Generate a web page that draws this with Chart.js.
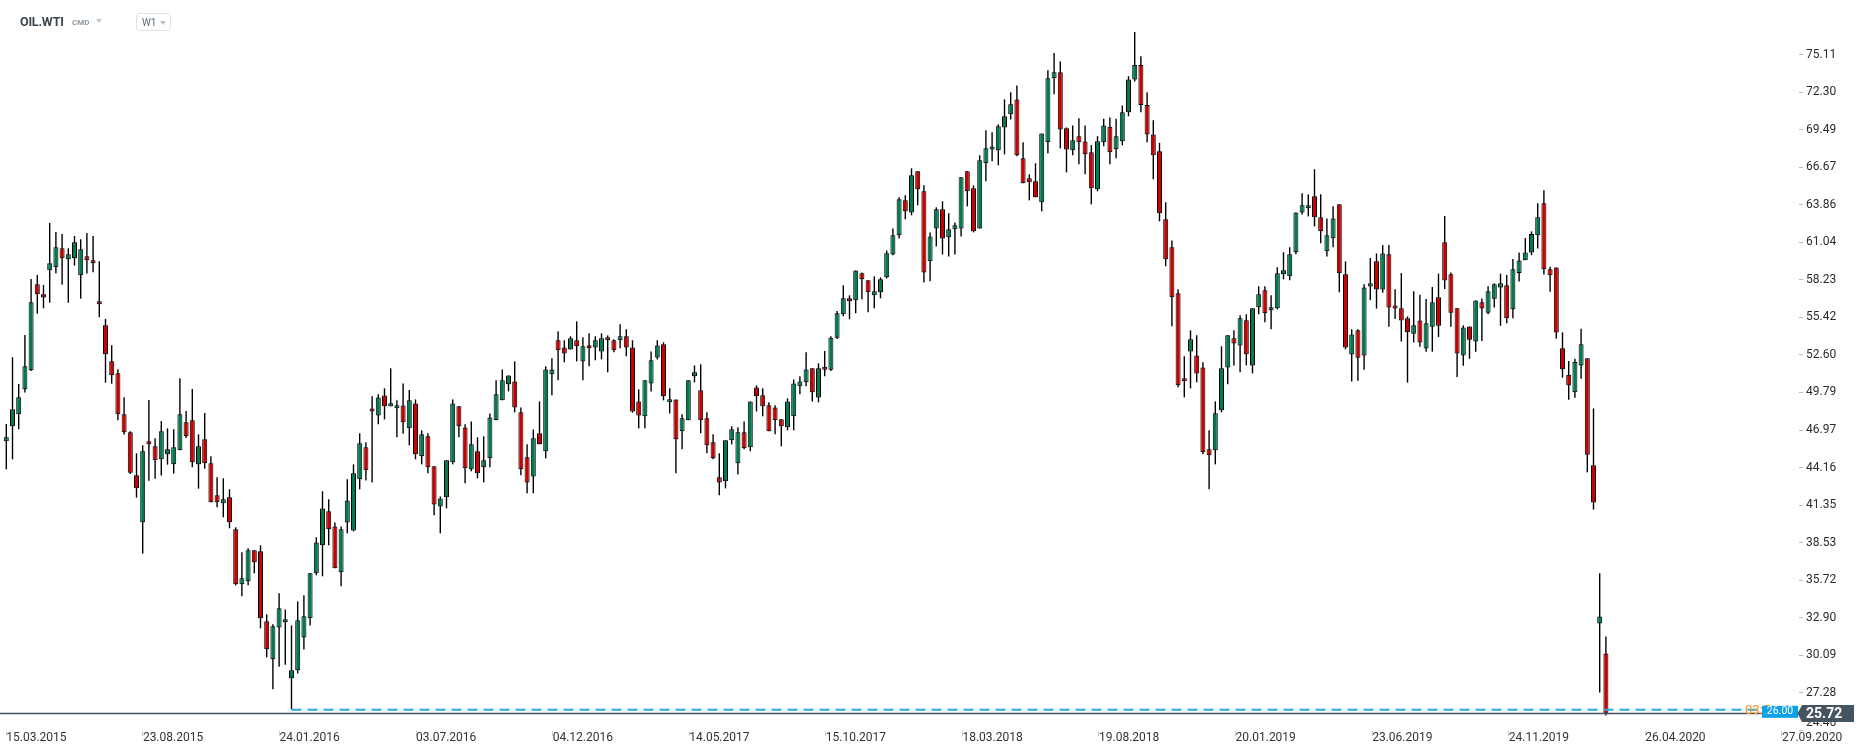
<!DOCTYPE html>
<html>
<head>
<meta charset="utf-8">
<title>OIL.WTI W1</title>
<script src="https://cdn.jsdelivr.net/npm/chart.js@4.4.1/dist/chart.umd.min.js"></script>
<style>
  html, body { margin: 0; padding: 0; background: #fff; }
  #wrap { position: relative; width: 1866px; height: 756px; overflow: hidden; }
  #chart { position: absolute; left: 0; top: 0; }
  .hdr { position: absolute; font-family: Roboto, sans-serif; white-space: nowrap; }
  .sym { left: 20px; top: 15px; font-weight: bold; font-size: 12.5px; line-height: 14px; color: #3b4751; letter-spacing: -0.2px; }
  .grp { left: 72px; top: 18px; font-weight: bold; font-size: 8px; line-height: 9px; color: #8c99a4; }
  .tri { position: absolute; width: 0; height: 0; border-left: 3.5px solid transparent; border-right: 3.5px solid transparent; border-top: 4px solid #c3cad1; }
  .tf { left: 136px; top: 13px; width: 33px; height: 16px; border: 1px solid #dde2e6; border-radius: 3px; }
  .tf span { position: absolute; left: 5px; top: 3px; font-size: 10px; line-height: 11px; color: #5f6c77; }
</style>
</head>
<body>
<div id="wrap">
  <canvas id="chart" width="1866" height="756"></canvas>
  <div class="hdr sym">OIL.WTI</div>
  <div class="hdr grp">CMD</div>
  <div class="tri" style="left:96px;top:19px"></div>
  <div class="hdr tf"><span>W1</span><i class="tri" style="left:23px;top:7px;border-top-color:#b9c2ca"></i></div>
</div>
<script>
// weekly candles
const candleOpen = [
  46.13, 47.25, 48.15, 50.03, 51.45, 57.90, 57.15, 58.95, 59.17, 60.60,
  59.77, 59.85, 58.57, 60.00, 59.70, 56.55, 54.82, 52.13, 51.23, 48.15,
  46.80, 43.58, 40.06, 46.05, 45.75, 44.78, 45.15, 44.40, 45.45, 47.55,
  47.70, 44.40, 46.28, 44.48, 42.08, 41.48, 41.93, 39.53, 35.41, 35.63,
  37.96, 37.88, 32.64, 29.79, 32.18, 32.56, 28.36, 28.96, 31.43, 32.86,
  36.23, 38.33, 40.88, 39.75, 36.31, 40.05, 39.45, 43.28, 45.68, 48.52,
  48.07, 49.57, 48.75, 48.60, 48.82, 47.10, 48.97, 45.00, 46.50, 44.25,
  41.25, 41.93, 44.55, 48.75, 47.17, 44.03, 45.38, 44.18, 44.85, 47.70,
  49.20, 50.40, 50.62, 48.30, 44.93, 43.50, 46.73, 45.38, 51.15, 53.70,
  53.17, 53.02, 53.70, 52.12, 53.32, 53.17, 52.87, 53.92, 53.70, 53.70,
  54.00, 53.17, 49.12, 48.00, 50.47, 52.42, 53.40, 49.05, 49.27, 46.88,
  47.70, 51.00, 49.95, 47.85, 46.05, 43.43, 43.13, 46.20, 44.48, 46.80,
  45.68, 50.17, 49.58, 48.83, 48.67, 47.78, 47.18, 48.00, 50.25, 50.55,
  51.60, 49.42, 51.60, 51.50, 53.90, 55.65, 56.85, 56.70, 58.72, 58.20,
  57.07, 57.30, 58.42, 60.14, 61.57, 64.19, 63.29, 66.37, 64.87, 59.62,
  62.09, 63.52, 61.42, 62.02, 62.09, 66.37, 65.09, 62.09, 66.97, 68.01,
  67.94, 69.66, 70.64, 71.76, 67.34, 65.84, 65.62, 64.04, 68.54, 73.34,
  73.79, 69.59, 67.94, 68.99, 68.61, 67.79, 65.02, 68.54, 69.70, 68.02,
  68.62, 70.80, 73.25, 74.34, 71.34, 69.12, 67.87, 62.77, 60.67, 57.22,
  50.85, 52.87, 52.57, 51.67, 45.53, 45.45, 48.45, 51.67, 53.85, 53.32,
  55.20, 51.82, 56.17, 57.45, 55.95, 56.10, 58.65, 58.50, 60.30, 63.29,
  63.59, 64.49, 62.92, 60.37, 61.35, 63.89, 58.65, 52.64, 54.45, 52.56,
  57.74, 59.63, 57.50, 60.15, 56.24, 56.11, 55.35, 54.19, 55.19, 53.08,
  54.71, 56.92, 61.05, 58.66, 56.11, 52.56, 54.74, 53.61, 56.56, 55.76,
  56.82, 57.66, 57.82, 56.03, 58.74, 59.71, 60.29, 61.58, 63.97, 59.03,
  59.16, 53.11, 51.11, 49.80, 51.82, 52.35, 44.33, 32.47, 30.23
];
const candleHigh = [
  47.43, 52.43, 50.43, 54.10, 58.30, 58.60, 57.85, 62.50, 61.82, 61.67,
  60.60, 61.52, 61.27, 61.75, 61.52, 59.62, 55.30, 53.33, 51.53, 49.43,
  46.88, 45.23, 45.83, 49.23, 46.35, 47.65, 47.10, 47.03, 50.85, 48.40,
  50.05, 46.65, 48.25, 45.00, 43.43, 43.36, 42.53, 39.68, 37.81, 38.11,
  37.96, 38.33, 33.16, 32.41, 34.73, 33.53, 32.33, 34.13, 34.58, 36.23,
  38.93, 42.38, 41.78, 40.05, 39.75, 43.28, 44.40, 46.73, 46.05, 49.50,
  49.65, 50.10, 51.60, 49.20, 50.47, 49.97, 49.27, 46.95, 46.73, 44.25,
  42.00, 44.70, 49.27, 48.75, 47.40, 47.62, 46.43, 46.50, 48.22, 50.70,
  51.52, 51.07, 52.12, 48.67, 45.90, 47.02, 49.12, 51.75, 52.35, 54.37,
  53.70, 54.00, 55.12, 53.92, 54.22, 54.00, 54.22, 54.07, 53.77, 54.90,
  54.52, 53.70, 50.02, 50.70, 52.87, 53.70, 53.55, 50.10, 49.27, 48.15,
  50.70, 51.82, 51.90, 48.30, 46.65, 45.23, 46.20, 47.25, 47.18, 47.62,
  49.12, 50.32, 50.10, 49.05, 48.83, 47.78, 49.35, 50.77, 51.00, 52.80,
  51.60, 51.97, 52.90, 54.00, 55.90, 57.82, 57.07, 58.94, 58.79, 58.20,
  58.49, 58.42, 60.44, 62.09, 64.42, 64.57, 66.59, 66.37, 65.32, 61.79,
  63.67, 64.12, 63.22, 62.54, 65.92, 66.37, 65.32, 67.57, 69.44, 69.29,
  69.89, 71.76, 72.29, 72.81, 68.54, 66.14, 66.97, 69.21, 73.94, 75.24,
  74.61, 69.66, 69.81, 70.34, 69.81, 68.34, 69.00, 70.30, 70.40, 70.30,
  71.30, 73.50, 76.81, 75.00, 72.30, 70.20, 68.50, 64.04, 61.19, 57.52,
  52.50, 54.45, 54.07, 52.05, 46.95, 49.12, 53.25, 54.07, 54.45, 55.57,
  55.65, 56.10, 57.75, 57.75, 57.07, 59.17, 60.30, 60.67, 63.29, 64.72,
  64.64, 66.52, 64.64, 62.84, 63.74, 63.89, 59.62, 54.53, 54.53, 57.90,
  59.87, 60.21, 60.84, 60.84, 57.53, 58.74, 55.50, 57.37, 57.11, 56.79,
  57.69, 58.69, 63.02, 58.79, 56.11, 54.82, 54.74, 56.69, 56.84, 57.76,
  57.97, 58.69, 58.60, 59.79, 60.29, 61.37, 61.87, 63.97, 64.94, 59.21,
  59.16, 54.29, 52.14, 52.32, 54.56, 52.35, 48.59, 36.23, 31.49
];
const candleLow = [
  44.03, 44.78, 47.03, 49.78, 51.40, 55.70, 56.10, 56.52, 58.72, 57.87,
  56.52, 59.30, 56.82, 58.70, 58.80, 55.42, 50.53, 50.45, 47.70, 46.63,
  43.68, 41.91, 37.71, 43.18, 43.33, 43.56, 44.38, 43.71, 45.45, 46.38,
  44.18, 42.58, 44.08, 41.56, 41.18, 40.43, 39.61, 35.33, 34.51, 35.33,
  36.23, 32.11, 29.94, 27.54, 29.23, 29.38, 26.04, 28.73, 30.53, 32.33,
  36.08, 36.01, 38.33, 36.61, 35.26, 39.23, 39.38, 42.53, 43.20, 43.05,
  47.40, 47.77, 48.75, 46.43, 46.70, 45.83, 44.78, 44.40, 43.73, 40.58,
  39.23, 41.10, 44.40, 46.43, 42.98, 43.88, 43.35, 43.05, 44.18, 47.70,
  49.20, 49.87, 48.30, 43.58, 42.23, 42.23, 45.90, 44.85, 49.58, 50.70,
  52.05, 53.02, 52.12, 50.70, 51.75, 52.20, 52.27, 51.30, 52.80, 53.10,
  52.50, 48.27, 47.10, 47.10, 49.87, 52.27, 49.20, 48.22, 43.73, 45.53,
  47.70, 50.55, 46.73, 45.23, 44.78, 42.08, 42.60, 45.90, 43.65, 45.53,
  45.38, 48.37, 48.00, 46.88, 46.65, 45.75, 46.95, 46.95, 49.65, 50.25,
  49.12, 49.05, 51.00, 51.40, 53.80, 55.50, 55.27, 55.72, 56.77, 55.80,
  56.10, 56.85, 58.34, 60.07, 61.34, 62.77, 63.07, 63.82, 58.04, 58.12,
  60.74, 60.14, 59.99, 60.14, 61.49, 63.74, 61.79, 62.09, 65.62, 67.12,
  66.82, 67.64, 70.26, 67.49, 65.47, 64.19, 64.42, 63.37, 67.72, 72.14,
  68.09, 66.29, 67.57, 66.89, 66.14, 63.89, 64.87, 68.24, 66.89, 67.34,
  68.32, 70.50, 73.10, 70.80, 68.54, 65.77, 62.62, 59.25, 54.75, 50.18,
  49.43, 50.10, 50.55, 45.15, 42.53, 44.40, 48.30, 50.40, 51.82, 51.30,
  51.82, 51.22, 55.65, 55.05, 54.52, 56.02, 58.27, 58.20, 60.15, 63.14,
  62.99, 62.24, 60.97, 59.99, 60.67, 57.30, 53.02, 50.61, 50.66, 51.50,
  56.71, 56.08, 57.26, 54.71, 55.29, 53.61, 50.53, 53.53, 53.22, 52.85,
  52.85, 53.95, 57.55, 54.71, 50.95, 51.79, 52.32, 52.85, 53.64, 55.66,
  56.16, 54.79, 54.98, 55.35, 58.10, 59.71, 60.08, 60.58, 58.63, 57.34,
  53.82, 50.90, 49.24, 49.40, 50.82, 43.80, 41.01, 27.29, 25.58
];
const candleClose = [
  46.43, 48.53, 49.43, 51.75, 56.55, 57.15, 56.90, 59.47, 60.67, 59.85,
  60.15, 61.05, 60.52, 59.70, 59.47, 56.40, 52.65, 51.08, 48.15, 46.80,
  43.78, 42.61, 45.38, 45.90, 44.70, 46.88, 45.53, 45.68, 48.15, 46.50,
  44.55, 45.75, 44.48, 41.56, 41.56, 41.78, 40.06, 35.41, 35.86, 37.96,
  37.06, 32.86, 30.54, 32.26, 33.61, 32.71, 28.96, 32.71, 33.01, 36.23,
  38.55, 41.10, 39.53, 36.61, 39.53, 41.70, 43.73, 45.98, 43.95, 48.37,
  49.42, 48.75, 48.97, 48.75, 47.55, 49.20, 45.15, 46.65, 44.18, 41.40,
  41.85, 44.70, 48.97, 47.25, 44.10, 45.90, 43.73, 44.70, 47.92, 49.65,
  50.70, 51.07, 48.67, 44.03, 43.05, 46.35, 45.90, 51.52, 51.52, 52.95,
  52.72, 53.85, 53.25, 53.25, 53.10, 53.70, 53.85, 53.70, 52.95, 54.00,
  53.17, 48.37, 48.07, 50.70, 52.20, 53.32, 49.50, 49.20, 46.28, 47.85,
  50.70, 51.30, 47.70, 45.83, 44.85, 43.05, 46.20, 47.03, 46.80, 45.60,
  49.12, 49.50, 48.75, 46.88, 47.70, 47.25, 49.12, 50.47, 50.62, 51.52,
  49.80, 51.60, 51.50, 53.90, 55.72, 56.85, 56.62, 58.94, 58.27, 57.30,
  57.37, 58.27, 60.22, 61.57, 64.27, 63.37, 66.07, 65.02, 58.79, 61.49,
  63.52, 61.34, 62.02, 62.32, 65.92, 64.87, 61.87, 67.19, 68.09, 68.16,
  69.74, 70.49, 71.39, 67.57, 65.47, 65.54, 64.42, 69.21, 73.34, 73.79,
  69.51, 68.01, 68.69, 68.54, 67.64, 65.09, 68.62, 69.80, 67.79, 69.00,
  70.80, 73.25, 74.34, 71.34, 69.12, 67.57, 63.22, 59.77, 56.92, 50.33,
  50.63, 53.77, 51.22, 45.30, 45.08, 48.23, 51.60, 54.07, 53.47, 55.35,
  52.65, 56.10, 57.15, 55.72, 56.10, 58.72, 58.95, 60.15, 63.29, 63.82,
  63.74, 62.92, 61.87, 61.57, 62.84, 58.72, 53.17, 54.13, 52.40, 57.66,
  57.97, 57.50, 60.21, 56.16, 56.08, 55.19, 54.30, 54.82, 53.53, 54.98,
  56.56, 54.79, 58.18, 55.76, 52.71, 54.66, 53.74, 56.69, 56.08, 57.37,
  57.90, 57.97, 55.35, 59.03, 59.68, 60.29, 61.66, 62.92, 59.03, 58.58,
  54.29, 51.53, 50.32, 52.08, 53.40, 45.12, 41.54, 33.00, 25.72
];

const xTickLabels = [
  '15.03.2015', '23.08.2015', '24.01.2016', '03.07.2016', '04.12.2016',
  '14.05.2017', '15.10.2017', '18.03.2018', '19.08.2018', '20.01.2019',
  '23.06.2019', '24.11.2019', '26.04.2020', '27.09.2020'
];
const yTickLabels = [
  '24.46', '27.28', '30.09', '32.90', '35.72', '38.53', '41.35', '44.16', '46.97', '49.79',
  '52.60', '55.42', '58.23', '61.04', '63.86', '66.67', '69.49', '72.30', '75.11'
];

const lastPrice = 25.72;
const supportLevel = 26.00;
const supportFromCandle = 46;

const UP = '#007b4f';
const DOWN = '#cc0000';
const WEEKS_PER_LABEL = 22.03;

const idx = candleOpen.map((_, i) => i);
const bodyData = idx.map(i => ({ x: i, y: [candleOpen[i], candleClose[i]] }));
const wickData = idx.map(i => ({ x: i, y: [candleLow[i], candleHigh[i]] }));
const bodyColors = idx.map(i => candleClose[i] >= candleOpen[i] ? UP : DOWN);

const tickFont = { family: 'Roboto', size: 12 };

const overlay = {
  id: 'overlay',
  afterDraw(chart) {
    const { ctx, chartArea, scales: { x, y } } = chart;
    ctx.save();

    // last price line
    const yLast = y.getPixelForValue(lastPrice);
    ctx.strokeStyle = '#45535e';
    ctx.lineWidth = 1.5;
    ctx.beginPath();
    ctx.moveTo(chartArea.left, yLast);
    ctx.lineTo(chartArea.right, yLast);
    ctx.stroke();

    // support line from the 2016 low
    const ySup = y.getPixelForValue(supportLevel);
    ctx.setLineDash([10, 6]);
    ctx.strokeStyle = '#2aa8e2';
    ctx.lineWidth = 2;
    ctx.beginPath();
    ctx.moveTo(x.getPixelForValue(supportFromCandle), ySup);
    ctx.lineTo(1762, ySup);
    ctx.stroke();
    ctx.setLineDash([]);

    // half hidden timer text behind the level tag
    ctx.font = '13px Roboto';
    ctx.fillStyle = '#f7941d';
    ctx.textAlign = 'left';
    ctx.textBaseline = 'middle';
    ctx.fillText('03:5', 1745, ySup + 1);

    // level tag
    ctx.fillStyle = '#0fa1e6';
    ctx.fillRect(1762, ySup - 4, 36, 12);
    ctx.fillStyle = '#fff';
    ctx.font = '10.5px Roboto';
    ctx.textAlign = 'center';
    ctx.fillText(supportLevel.toFixed(2), 1780, ySup + 2);

    // last price tag
    ctx.fillStyle = '#46545f';
    ctx.beginPath();
    ctx.moveTo(1797.5, yLast);
    ctx.lineTo(1802, yLast - 8.5);
    ctx.lineTo(1854, yLast - 8.5);
    ctx.lineTo(1854, yLast + 8.5);
    ctx.lineTo(1802, yLast + 8.5);
    ctx.closePath();
    ctx.fill();
    ctx.fillStyle = '#fff';
    ctx.font = 'bold 14px Roboto';
    ctx.textAlign = 'left';
    ctx.fillText(lastPrice.toFixed(2), 1806, yLast + 1);

    ctx.restore();
  }
};

const canvas = document.getElementById('chart');
new Chart(canvas.getContext('2d'), {
  type: 'bar',
  data: {
    datasets: [
      {
        data: bodyData,
        backgroundColor: bodyColors,
        borderColor: '#000',
        borderWidth: 1,
        borderSkipped: false,
        barThickness: 5,
        minBarLength: 3,
        inflateAmount: 0,
        grouped: false,
        order: 1
      },
      {
        data: wickData,
        backgroundColor: '#000',
        borderWidth: 0,
        barThickness: 1.4,
        inflateAmount: 0,
        grouped: false,
        order: 2
      }
    ]
  },
  options: {
    responsive: false,
    animation: false,
    devicePixelRatio: 1,
    events: [],
    layout: { padding: 0 },
    plugins: {
      legend: { display: false },
      tooltip: { enabled: false }
    },
    scales: {
      x: {
        type: 'linear',
        min: -1.016,
        max: 289.145,
        offset: false,
        bounds: 'data',
        border: { display: false },
        grid: { display: true, offset: false, drawOnChartArea: false, drawTicks: true, tickLength: 5, color: '#c9ced3' },
        ticks: {
          autoSkip: false,
          maxRotation: 0,
          minRotation: 0,
          align: 'start',
          padding: -5,
          color: '#333',
          font: tickFont,
          callback: (value, index) => xTickLabels[index]
        },
        afterBuildTicks: scale => {
          scale.ticks = xTickLabels.map((_, k) => ({ value: k * WEEKS_PER_LABEL }));
        },
        afterFit: scale => {
          scale.height = 25;
          scale.paddingLeft = 0;
          scale.paddingRight = 0;
        }
      },
      y: {
        type: 'linear',
        position: 'right',
        min: 24.413,
        max: 79.21,
        bounds: 'data',
        border: { display: false },
        grid: { display: true, drawOnChartArea: false, drawTicks: true, tickLength: 4, color: '#b4bcc4' },
        ticks: {
          autoSkip: false,
          padding: 3,
          color: '#2b2b2b',
          font: tickFont,
          // the lowest label sits a bit higher in the original, above the time axis
          callback: (value, index) => index === 0 ? [yTickLabels[0], ''] : yTickLabels[index]
        },
        afterBuildTicks: scale => {
          scale.ticks = yTickLabels.map(v => ({ value: parseFloat(v) }));
        },
        afterFit: scale => {
          scale.width = 67;
          scale.paddingTop = 0;
          scale.paddingBottom = 0;
        }
      }
    }
  },
  plugins: [overlay]
});
</script>
</body>
</html>
